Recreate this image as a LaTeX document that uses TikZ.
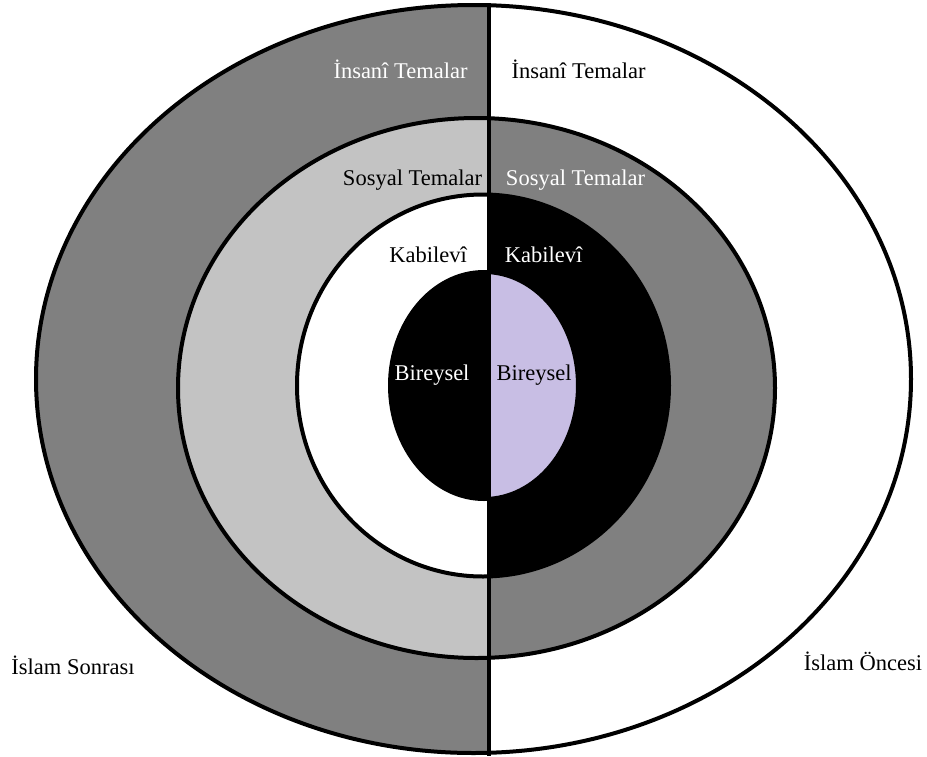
\documentclass[tikz,border=0pt]{standalone}
\usepackage{fontspec}
\setmainfont{Liberation Serif}
\definecolor{dgray}{RGB}{128,128,128}
\definecolor{lgray}{RGB}{195,195,195}
\definecolor{lav}{RGB}{200,190,228}
\begin{document}
\begin{tikzpicture}[x=1pt,y=-1pt,
  lbl/.style={font=\fontsize{22.5}{27}\selectfont, anchor=base, inner sep=0pt},
  ring/.style={draw=black, line width=4pt}]
\useasboundingbox (0,0) rectangle (927,756);
% left half
\begin{scope}
  \clip (0,0) rectangle (489,756);
  \fill[dgray] (473.5,379) ellipse [x radius=437.5pt, y radius=374pt];
  \fill[lgray] (476.5,388) ellipse [x radius=298.5pt, y radius=270pt];
  \fill[white] (483,385.5) ellipse [x radius=186pt, y radius=191pt];
  \fill[black] (484,385.5) ellipse [x radius=94pt, y radius=113.5pt];
\end{scope}
% right half
\begin{scope}
  \clip (489,0) rectangle (927,756);
  \fill[white] (473.5,379) ellipse [x radius=437.5pt, y radius=374pt];
  \fill[dgray] (476.5,388) ellipse [x radius=298.5pt, y radius=270pt];
  \fill[black] (483,385.5) ellipse [x radius=186pt, y radius=191pt];
  \fill[lav] (484,385.5) ellipse [x radius=94pt, y radius=113.5pt];
\end{scope}
% outlines
\draw[ring] (473.5,379) ellipse [x radius=437.5pt, y radius=374pt];
\draw[ring] (476.5,388) ellipse [x radius=298.5pt, y radius=270pt];
\draw[ring] (483,385.5) ellipse [x radius=186pt, y radius=191pt];
\draw[ring] (484,385.5) ellipse [x radius=94pt, y radius=113.5pt];
% divider
\coordinate (dtop) at (489,3);
\coordinate (dbot) at (489,756);
\draw[line width=3.5pt] (dtop) -- (dbot);
% labels
\node[lbl, text=white] (insL) at (400.5,78) {İnsanî Temalar};
\node[lbl, text=black] (insR) at (578.5,78) {İnsanî Temalar};
\node[lbl, text=black] (sosL) at (412.5,185) {Sosyal Temalar};
\node[lbl, text=white] (sosR) at (575.5,185) {Sosyal Temalar};
\node[lbl, text=black] (kabL) at (428,262) {Kabilevî};
\node[lbl, text=white] (kabR) at (543.5,262) {Kabilevî};
\node[lbl, text=white] (birL) at (432,380) {Bireysel};
\node[lbl, text=black] (birR) at (534,380) {Bireysel};
\node[lbl, text=black] (sonra) at (73,674) {İslam Sonrası};
\node[lbl, text=black] (once) at (863,670) {İslam Öncesi};
\end{tikzpicture}
\end{document}
